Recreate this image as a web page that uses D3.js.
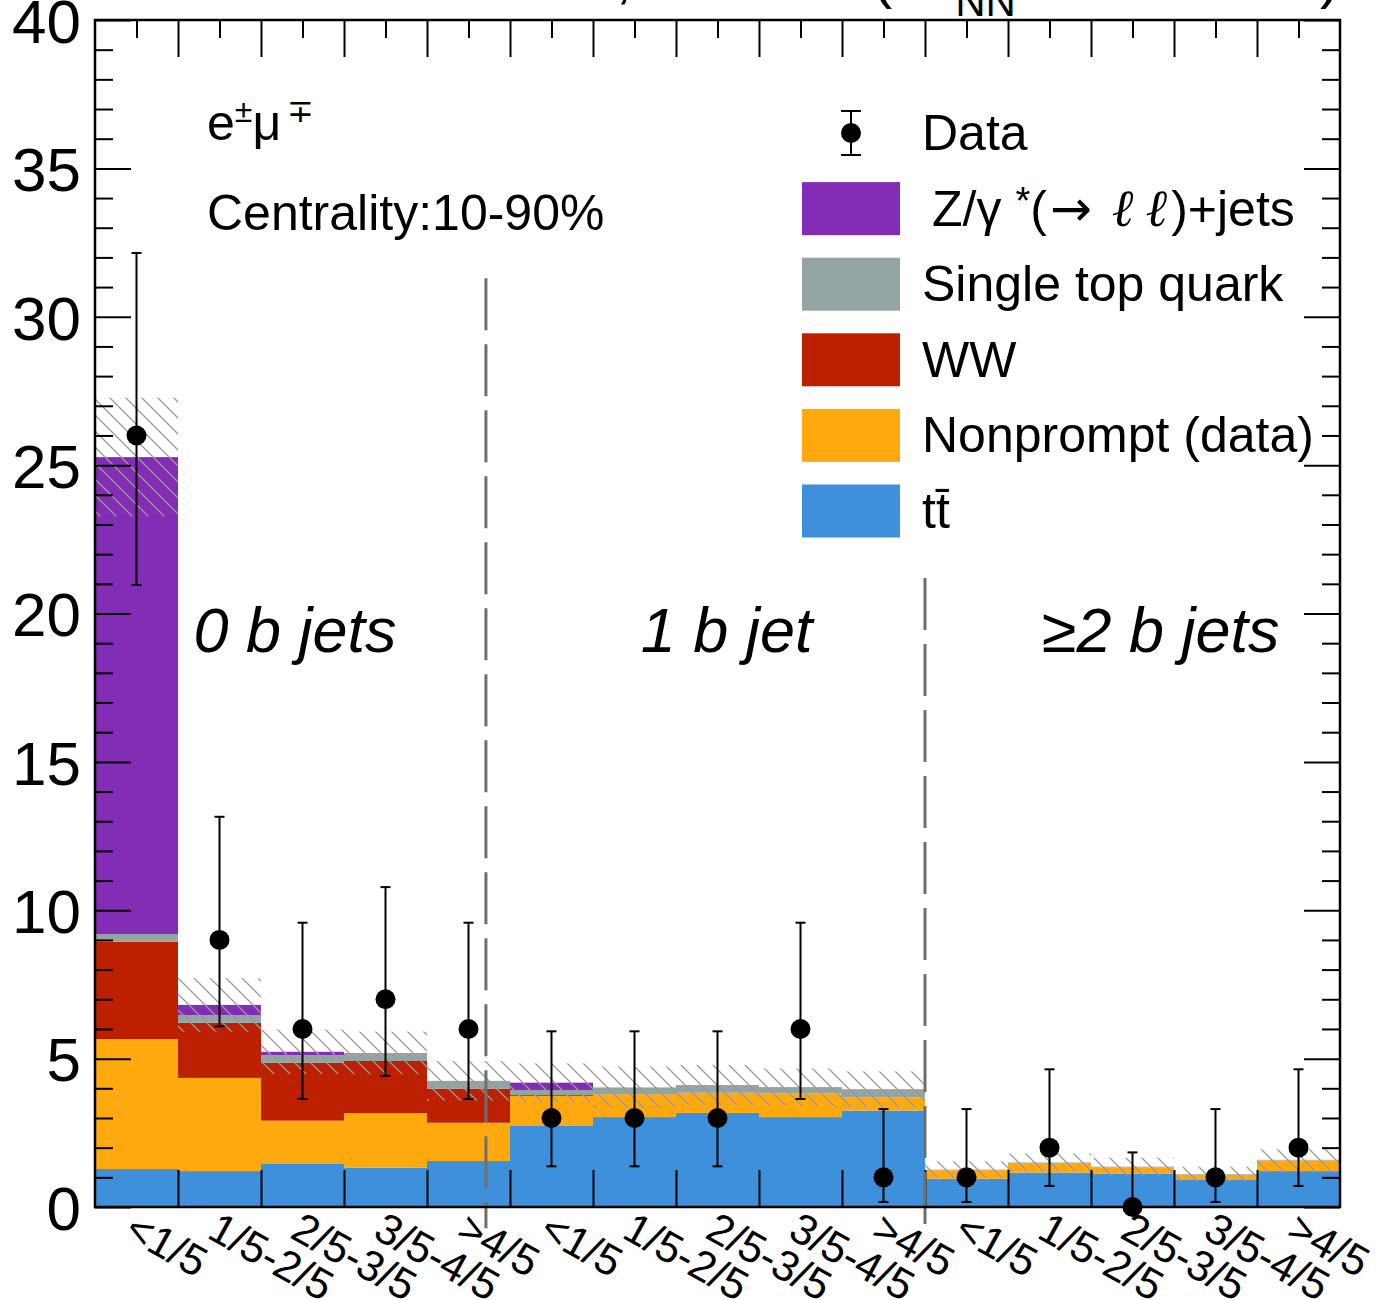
<!DOCTYPE html>
<html>
<head>
<meta charset="utf-8">
<script src="https://cdn.jsdelivr.net/npm/d3@7"></script>
<style>
  html, body { margin: 0; padding: 0; background: #fff; }
  svg { display: block; }
  text { font-family: "Liberation Sans", Arial, Helvetica, sans-serif; fill: #000; }
</style>
</head>
<body>
<div id="chart"></div>
<script>
// e-mu channel, yields per bin of BDT score in 0 / 1 / >=2 b jet categories

var binLabels = ["<1/5", "1/5-2/5", "2/5-3/5", "3/5-4/5", ">4/5",
                 "<1/5", "1/5-2/5", "2/5-3/5", "3/5-4/5", ">4/5",
                 "<1/5", "1/5-2/5", "2/5-3/5", "3/5-4/5", ">4/5"];

var ttbar     = [1.28, 1.21, 1.45, 1.33, 1.55, 2.73, 3.03, 3.17, 3.03, 3.25, 0.95, 1.16, 1.12, 0.91, 1.21];
var nonprompt = [4.38, 3.14, 1.46, 1.83, 1.29, 1.01, 0.77, 0.68, 0.80, 0.45, 0.29, 0.32, 0.22, 0.18, 0.36];
var ww        = [3.28, 1.86, 1.95, 1.76, 1.15, 0.03, 0.00, 0.00, 0.00, 0.00, 0.00, 0.00, 0.00, 0.00, 0.00];
var singleTop = [0.26, 0.26, 0.26, 0.27, 0.26, 0.17, 0.23, 0.26, 0.21, 0.27, 0.02, 0.02, 0.02, 0.02, 0.02];
var dyJets    = [16.07, 0.34, 0.11, 0.00, 0.00, 0.25, 0.00, 0.00, 0.00, 0.00, 0.00, 0.00, 0.00, 0.00, 0.00];
var bkgUnc    = [2.00, 0.90, 0.75, 0.72, 0.67, 0.65, 0.70, 0.68, 0.63, 0.60, 0.28, 0.30, 0.30, 0.25, 0.36];

var dataCounts = [26, 9, 6, 7, 6, 3, 3, 3, 6, 1, 1, 2, 0, 1, 2];
var dataErrLo  = [5.04, 2.91, 2.36, 2.58, 2.36, 1.63, 1.63, 1.63, 2.36, 0.83, 0.83, 1.29, 0.00, 0.83, 1.29];
var dataErrHi  = [6.15, 4.15, 3.58, 3.78, 3.58, 2.92, 2.92, 2.92, 3.58, 2.30, 2.30, 2.64, 1.84, 2.30, 2.64];

var yMajorTicks = [0, 5, 10, 15, 20, 25, 30, 35, 40];
var regionNames = ["0 b jets", "1 b jet", "\u22652 b jets"];
var regionCentres = [2.41, 7.61, 12.84];   // in bin units
var separators = [{x: 4.71, top: 31.3}, {x: 10.0, top: 21.2}];

var processKeys = ["tt", "nonprompt", "ww", "singletop", "dy"];
var processNames = {
  tt: "tt\u0304",
  nonprompt: "Nonprompt (data)",
  ww: "WW",
  singletop: "Single top quark",
  dy: "Z/\u03b3*(\u2192 \u2113\u2113)+jets"
};

var width = 1378, height = 1300;
var plot = { left: 95, right: 1340, top: 20, bottom: 1207 };

var color = d3.scaleOrdinal()
    .domain(processKeys)
    .range(["#3f90da", "#ffa90e", "#bd1f01", "#94a4a2", "#832db6"]);

var nBins = binLabels.length;
var x = d3.scaleLinear().domain([0, nBins]).range([plot.left, plot.right]);
var y = d3.scaleLinear().domain([0, 40]).range([plot.bottom, plot.top]);

var table = d3.range(nBins).map(function(i) {
  return { bin: i, tt: ttbar[i], nonprompt: nonprompt[i], ww: ww[i], singletop: singleTop[i], dy: dyJets[i] };
});
var series = d3.stack().keys(processKeys)(table);

var svg = d3.select("#chart").append("svg")
    .attr("width", width)
    .attr("height", height);

// hatch for the background uncertainty
var defs = svg.append("defs");
defs.append("pattern")
    .attr("id", "hatch")
    .attr("patternUnits", "userSpaceOnUse")
    .attr("width", 16)
    .attr("height", 16)
  .append("path")
    .attr("d", "M0,0 L16,16 M-8,8 L8,24 M8,-8 L24,8")
    .style("stroke", "#9a9a9a")
    .style("stroke-width", 1.3);

// Stack
svg.append("g")
    .attr("class", "stack")
  .selectAll("g")
  .data(series)
  .enter().append("g")
    .style("fill", function(d) { return color(d.key); })
  .selectAll("rect")
  .data(function(d) { return d; })
  .enter().append("rect")
    .attr("x", function(d) { return x(d.data.bin); })
    .attr("width", function(d) { return x(d.data.bin + 1) - x(d.data.bin); })
    .attr("y", function(d) { return y(d[1]); })
    .attr("height", function(d) { return y(d[0]) - y(d[1]); });

var totals = series[series.length - 1].map(function(d) { return d[1]; });

// Uncertainty band
svg.append("g")
    .attr("class", "unc")
  .selectAll("rect")
  .data(d3.range(nBins))
  .enter().append("rect")
    .attr("x", function(i) { return x(i); })
    .attr("width", function(i) { return x(i + 1) - x(i); })
    .attr("y", function(i) { return y(totals[i] + bkgUnc[i]); })
    .attr("height", function(i) { return y(totals[i] - bkgUnc[i]) - y(totals[i] + bkgUnc[i]); })
    .style("fill", "url(#hatch)");

// Axes (ticks inside the frame, ROOT style)
var yMinor = d3.range(0, 41).filter(function(v) { return v % 5 !== 0; });

svg.append("g")
    .attr("transform", "translate(" + plot.left + ",0)")
    .call(d3.axisLeft(y).tickValues(yMajorTicks).tickSizeInner(-36).tickSizeOuter(0).tickPadding(14))
    .call(styleAxis)
    .selectAll("text")
    .style("font-size", "62px")
    .attr("dy", "0.36em");

svg.append("g")
    .attr("transform", "translate(" + plot.left + ",0)")
    .call(d3.axisLeft(y).tickValues(yMinor).tickSizeInner(-18).tickSizeOuter(0).tickFormat(""))
    .call(styleAxis);

svg.append("g")
    .attr("transform", "translate(" + plot.right + ",0)")
    .call(d3.axisRight(y).tickValues(yMajorTicks).tickSizeInner(-36).tickSizeOuter(0).tickFormat(""))
    .call(styleAxis);

svg.append("g")
    .attr("transform", "translate(" + plot.right + ",0)")
    .call(d3.axisRight(y).tickValues(yMinor).tickSizeInner(-18).tickSizeOuter(0).tickFormat(""))
    .call(styleAxis);

var binEdges = d3.range(1, nBins);
var binCentres = d3.range(nBins).map(function(i) { return i + 0.5; });

svg.append("g")
    .attr("transform", "translate(0," + plot.bottom + ")")
    .call(d3.axisBottom(x).tickValues(binEdges).tickSizeInner(-37).tickSizeOuter(0).tickFormat(""))
    .call(styleAxis);

svg.append("g")
    .attr("transform", "translate(0," + plot.top + ")")
    .call(d3.axisTop(x).tickValues(binEdges).tickSizeInner(-37).tickSizeOuter(0).tickFormat(""))
    .call(styleAxis);

svg.append("g")
    .attr("transform", "translate(0," + plot.top + ")")
    .call(d3.axisTop(x).tickValues(binCentres).tickSizeInner(-18).tickSizeOuter(0).tickFormat(""))
    .call(styleAxis);

// Bin labels, rotated
svg.append("g")
    .attr("class", "binLabels")
  .selectAll("text")
  .data(binLabels)
  .enter().append("text")
    .attr("transform", function(d, i) { return "translate(" + (x(i + 0.5) + 1) + "," + (plot.bottom + 3) + ") rotate(29)"; })
    .attr("dy", "0.72em")
    .style("font-size", "43px")
    .text(function(d) { return d; });

// Category separators
svg.append("g")
    .attr("class", "separators")
  .selectAll("line")
  .data(separators)
  .enter().append("line")
    .attr("x1", function(d) { return x(d.x); })
    .attr("x2", function(d) { return x(d.x); })
    .attr("y1", function(d) { return y(d.top); })
    .attr("y2", y(-0.72))
    .style("stroke", "#6e6e6e")
    .style("stroke-width", 3)
    .style("stroke-dasharray", "52,14");

// Data points
var points = svg.append("g")
    .attr("class", "data")
  .selectAll("g")
  .data(d3.range(nBins))
  .enter().append("g");

points.append("line")
    .attr("x1", function(i) { return x(i + 0.5); })
    .attr("x2", function(i) { return x(i + 0.5); })
    .attr("y1", function(i) { return y(dataCounts[i] + dataErrHi[i]); })
    .attr("y2", function(i) { return y(dataCounts[i] - dataErrLo[i]); })
    .style("stroke", "#000")
    .style("stroke-width", 2);

points.append("line")
    .attr("x1", function(i) { return x(i + 0.5) - 5; })
    .attr("x2", function(i) { return x(i + 0.5) + 5; })
    .attr("y1", function(i) { return y(dataCounts[i] + dataErrHi[i]); })
    .attr("y2", function(i) { return y(dataCounts[i] + dataErrHi[i]); })
    .style("stroke", "#000")
    .style("stroke-width", 2);

points.filter(function(i) { return dataErrLo[i] > 0; })
  .append("line")
    .attr("x1", function(i) { return x(i + 0.5) - 5; })
    .attr("x2", function(i) { return x(i + 0.5) + 5; })
    .attr("y1", function(i) { return y(dataCounts[i] - dataErrLo[i]); })
    .attr("y2", function(i) { return y(dataCounts[i] - dataErrLo[i]); })
    .style("stroke", "#000")
    .style("stroke-width", 2);

points.append("circle")
    .attr("cx", function(i) { return x(i + 0.5); })
    .attr("cy", function(i) { return y(dataCounts[i]); })
    .attr("r", 10)
    .style("fill", "#000");

// Frame
svg.append("rect")
    .attr("x", plot.left)
    .attr("y", plot.top)
    .attr("width", plot.right - plot.left)
    .attr("height", plot.bottom - plot.top)
    .style("fill", "none")
    .style("stroke", "#000")
    .style("stroke-width", 2.5);

// Region labels
svg.append("g")
  .selectAll("text")
  .data(regionNames)
  .enter().append("text")
    .attr("x", function(d, i) { return x(regionCentres[i]); })
    .attr("y", y(18.7))
    .attr("text-anchor", "middle")
    .style("font-size", "63px")
    .style("font-style", "italic")
    .text(function(d) { return d; });

// Channel / centrality
var chan = svg.append("text")
    .attr("x", 207)
    .attr("y", 140)
    .style("font-size", "50px");
chan.append("tspan").text("e");
chan.append("tspan").attr("dy", -18).style("font-size", "32px").text("\u00b1");
chan.append("tspan").attr("dy", 18).text("\u03bc");
chan.append("tspan").attr("dy", -18).attr("dx", 6).style("font-size", "32px").text("\u2213");

svg.append("text")
    .attr("x", 207)
    .attr("y", 230)
    .style("font-size", "50px")
    .text("Centrality:10-90%");

// Title (mostly cut off at the top edge)
var title = svg.append("text")
    .attr("x", plot.right)
    .attr("y", -3)
    .attr("text-anchor", "end")
    .style("font-size", "60px");
title.append("tspan").text("PbPb, 1.7 nb\u207b\u00b9 (\u221as");
title.append("tspan").attr("dy", 19).style("font-size", "42px").text("NN");
title.append("tspan").attr("dy", -19).text(" = 5.02 TeV)");

// Legend
var legend = svg.append("g").attr("class", "legend");
var legendRows = ["data"].concat(processKeys.slice().reverse());
var rowY = d3.scalePoint().domain(legendRows).range([133, 511]);

legendRows.forEach(function(key) {
  var cy = rowY(key);
  if (key === "data") {
    legend.append("line").attr("x1", 851).attr("x2", 851).attr("y1", cy - 22).attr("y2", cy + 22)
        .style("stroke", "#000").style("stroke-width", 2);
    [cy - 22, cy + 22].forEach(function(yy) {
      legend.append("line").attr("x1", 841).attr("x2", 861).attr("y1", yy).attr("y2", yy)
          .style("stroke", "#000").style("stroke-width", 2);
    });
    legend.append("circle").attr("cx", 851).attr("cy", cy).attr("r", 10).style("fill", "#000");
    legend.append("text").attr("x", 922).attr("y", cy + 17).style("font-size", "50px").text("Data");
  } else {
    legend.append("rect")
        .attr("x", 802).attr("y", cy - 26.5)
        .attr("width", 98).attr("height", 53)
        .style("fill", color(key));
    var t = legend.append("text").attr("x", key === "dy" ? 932 : 922).attr("y", cy + 17).style("font-size", "50px");
    if (key === "dy") {
      t.append("tspan").text("Z/\u03b3");
      t.append("tspan").attr("dy", -12).attr("dx", 14).style("font-size", "38px").text("*");
      t.append("tspan").attr("dy", 12).text("(");
      t.append("tspan").attr("dx", 3).style("font-family", "DejaVu Sans").text("\u2192");
      t.append("tspan").attr("dx", 20).style("font-family", "DejaVu Serif").style("font-style", "italic")
          .style("font-size", "52px").text("\u2113");
      t.append("tspan").attr("dx", 12).style("font-family", "DejaVu Serif").style("font-style", "italic")
          .style("font-size", "52px").text("\u2113");
      t.append("tspan").attr("dx", 4).text(")+jets");
    } else {
      t.text(processNames[key]);
    }
  }
});

function styleAxis(g) {
  g.select(".domain").remove();
  g.selectAll(".tick line").style("stroke", "#000").style("stroke-width", 2);
  g.selectAll(".tick text").style("font-family", "Liberation Sans, Arial, sans-serif");
}
</script>
</body>
</html>
